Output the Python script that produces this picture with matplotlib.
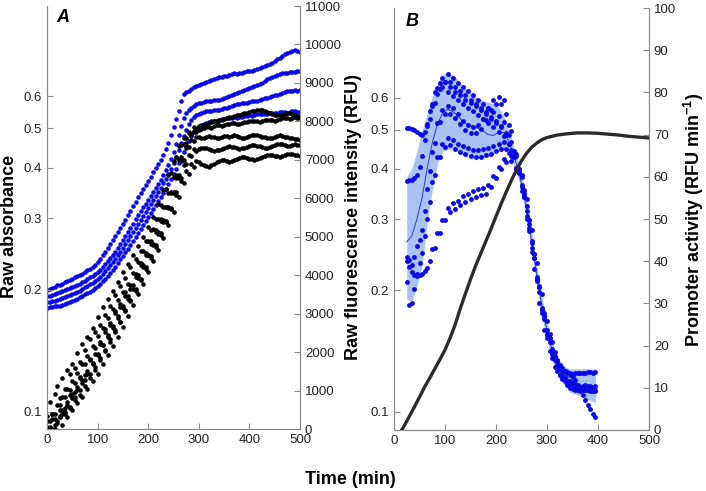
import numpy as np
import matplotlib
matplotlib.use("Agg")
import matplotlib.pyplot as plt
from matplotlib.ticker import NullLocator

plt.rcParams["font.family"] = ["Liberation Sans", "DejaVu Sans"]
plt.rcParams["mathtext.fontset"] = "custom"
plt.rcParams["mathtext.rm"] = "Liberation Sans:bold"
plt.rcParams["mathtext.bf"] = "Liberation Sans:bold"
plt.rcParams["mathtext.default"] = "bf"

# ---------------- panel A data (every 5 min) ----------------
t_a = np.arange(0, 501, 5)

# raw fluorescence (RFU, right axis), blue
fluo_a1 = [3610, 3640, 3670, 3700, 3740, 3750, 3770, 3810, 3850, 3870,
           3900, 3940, 3980, 4000, 4030, 4080, 4130, 4170, 4210, 4270,
           4340, 4430, 4520, 4610, 4710, 4810, 4910, 5010, 5120, 5220,
           5330, 5440, 5560, 5680, 5800, 5910, 6030, 6130, 6240, 6340,
           6450, 6560, 6680, 6780, 6890, 7000, 7120, 7280, 7450, 7640,
           7850, 8060, 8280, 8520, 8700, 8760, 8800, 8850, 8890, 8910,
           8940, 8970, 9000, 9030, 9050, 9070, 9100, 9130, 9150, 9160,
           9180, 9190, 9200, 9240, 9260, 9240, 9250, 9270, 9280, 9300,
           9310, 9320, 9330, 9360, 9390, 9420, 9440, 9460, 9490, 9530,
           9570, 9610, 9650, 9700, 9750, 9780, 9800, 9840, 9850, 9820,
           9800]
fluo_a2 = [3460, 3470, 3480, 3510, 3540, 3570, 3590, 3610, 3640, 3670,
           3690, 3710, 3740, 3780, 3820, 3860, 3900, 3940, 3980, 4030,
           4080, 4140, 4210, 4290, 4370, 4440, 4520, 4610, 4710, 4810,
           4910, 5010, 5120, 5220, 5330, 5450, 5560, 5660, 5770, 5860,
           5950, 6050, 6160, 6260, 6370, 6480, 6600, 6730, 6860, 7020,
           7200, 7410, 7640, 7870, 8090, 8210, 8290, 8350, 8400, 8440,
           8480, 8490, 8500, 8520, 8530, 8540, 8550, 8550, 8560, 8590,
           8610, 8630, 8660, 8690, 8710, 8730, 8760, 8790, 8810, 8840,
           8870, 8900, 8920, 8940, 8970, 9010, 9050, 9090, 9130, 9160,
           9180, 9200, 9230, 9250, 9260, 9270, 9280, 9290, 9280, 9300,
           9310]
fluo_a3 = [3300, 3310, 3330, 3340, 3350, 3380, 3410, 3430, 3460, 3480,
           3510, 3530, 3560, 3600, 3640, 3680, 3720, 3760, 3800, 3850,
           3900, 3960, 4030, 4110, 4190, 4260, 4340, 4430, 4520, 4610,
           4710, 4810, 4910, 5010, 5120, 5220, 5330, 5440, 5540, 5640,
           5750, 5850, 5950, 6050, 6160, 6280, 6400, 6510, 6630, 6770,
           6920, 7080, 7250, 7430, 7620, 7780, 7930, 8030, 8110, 8160,
           8190, 8220, 8240, 8260, 8270, 8280, 8290, 8300, 8300, 8330,
           8350, 8360, 8370, 8400, 8420, 8440, 8450, 8470, 8480, 8490,
           8500, 8520, 8530, 8540, 8550, 8580, 8610, 8620, 8630, 8660,
           8680, 8690, 8710, 8740, 8760, 8780, 8790, 8800, 8810, 8800,
           8810]
fluo_a4 = [3150, 3160, 3170, 3190, 3200, 3210, 3220, 3250, 3280, 3300,
           3330, 3350, 3380, 3420, 3460, 3500, 3540, 3570, 3610, 3660,
           3720, 3780, 3850, 3910, 3980, 4050, 4130, 4220, 4320, 4410,
           4500, 4590, 4680, 4780, 4890, 4990, 5100, 5200, 5300, 5400,
           5510, 5610, 5720, 5820, 5930, 6030, 6140, 6250, 6370, 6500,
           6630, 6770, 6920, 7060, 7200, 7350, 7490, 7610, 7720, 7800,
           7850, 7890, 7930, 7960, 7980, 8000, 8010, 8020, 8030, 8050,
           8060, 8080, 8090, 8100, 8110, 8100, 8110, 8120, 8140, 8150,
           8160, 8150, 8160, 8180, 8190, 8180, 8190, 8200, 8220, 8210,
           8220, 8230, 8240, 8250, 8240, 8230, 8240, 8260, 8270, 8250,
           8240]

# raw absorbance (left log axis), black
abs_a1 = [0.098, 0.106, 0.099, 0.111, 0.116, 0.108, 0.121, 0.114, 0.127, 0.124,
          0.131, 0.128, 0.140, 0.133, 0.147, 0.142, 0.153, 0.151, 0.161, 0.157,
          0.171, 0.164, 0.181, 0.173, 0.190, 0.182, 0.199, 0.194, 0.209, 0.204,
          0.221, 0.214, 0.232, 0.228, 0.244, 0.238, 0.257, 0.249, 0.270, 0.264,
          0.286, 0.280, 0.303, 0.299, 0.325, 0.323, 0.352, 0.354, 0.384, 0.388,
          0.416, 0.425, 0.451, 0.455, 0.474, 0.472, 0.489, 0.480, 0.493, 0.490,
          0.495, 0.497, 0.500, 0.503, 0.503, 0.501, 0.505, 0.508, 0.508, 0.506,
          0.510, 0.512, 0.512, 0.515, 0.515, 0.511, 0.513, 0.516, 0.518, 0.519,
          0.520, 0.521, 0.522, 0.520, 0.518, 0.521, 0.523, 0.525, 0.525, 0.523,
          0.522, 0.525, 0.527, 0.529, 0.530, 0.529, 0.528, 0.531, 0.532, 0.531,
          0.530]
abs_a2 = [0.095, 0.089, 0.099, 0.093, 0.104, 0.101, 0.109, 0.102, 0.114, 0.110,
          0.119, 0.112, 0.125, 0.121, 0.131, 0.123, 0.137, 0.134, 0.145, 0.139,
          0.154, 0.147, 0.161, 0.157, 0.170, 0.164, 0.179, 0.175, 0.189, 0.181,
          0.197, 0.193, 0.207, 0.201, 0.220, 0.215, 0.234, 0.230, 0.249, 0.243,
          0.264, 0.260, 0.282, 0.277, 0.299, 0.295, 0.319, 0.319, 0.347, 0.349,
          0.379, 0.384, 0.417, 0.424, 0.457, 0.460, 0.486, 0.485, 0.504, 0.499,
          0.505, 0.508, 0.510, 0.513, 0.515, 0.518, 0.520, 0.521, 0.523, 0.525,
          0.527, 0.530, 0.532, 0.534, 0.536, 0.538, 0.540, 0.542, 0.545, 0.546,
          0.548, 0.550, 0.552, 0.554, 0.555, 0.553, 0.550, 0.548, 0.545, 0.542,
          0.540, 0.539, 0.538, 0.540, 0.542, 0.544, 0.545, 0.541, 0.538, 0.536,
          0.535]
abs_a3 = [0.088, 0.095, 0.091, 0.096, 0.095, 0.104, 0.099, 0.109, 0.104, 0.113,
          0.108, 0.118, 0.113, 0.122, 0.118, 0.131, 0.124, 0.135, 0.131, 0.144,
          0.138, 0.149, 0.146, 0.160, 0.153, 0.166, 0.161, 0.177, 0.170, 0.184,
          0.180, 0.197, 0.190, 0.205, 0.201, 0.219, 0.214, 0.233, 0.228, 0.247,
          0.243, 0.263, 0.258, 0.280, 0.275, 0.298, 0.294, 0.320, 0.318, 0.347,
          0.348, 0.378, 0.383, 0.414, 0.418, 0.448, 0.450, 0.468, 0.466, 0.476,
          0.475, 0.474, 0.472, 0.476, 0.478, 0.477, 0.476, 0.474, 0.474, 0.477,
          0.479, 0.478, 0.476, 0.478, 0.480, 0.478, 0.476, 0.474, 0.473, 0.475,
          0.478, 0.481, 0.482, 0.480, 0.479, 0.477, 0.476, 0.474, 0.472, 0.474,
          0.476, 0.478, 0.480, 0.479, 0.477, 0.475, 0.474, 0.472, 0.471, 0.470,
          0.468]
abs_a4 = [0.092, 0.087, 0.096, 0.099, 0.094, 0.098, 0.101, 0.099, 0.106, 0.103,
          0.111, 0.107, 0.115, 0.110, 0.120, 0.116, 0.126, 0.121, 0.132, 0.127,
          0.139, 0.134, 0.146, 0.141, 0.155, 0.149, 0.163, 0.157, 0.172, 0.167,
          0.182, 0.178, 0.193, 0.188, 0.205, 0.199, 0.217, 0.211, 0.230, 0.225,
          0.244, 0.239, 0.259, 0.255, 0.277, 0.273, 0.297, 0.293, 0.319, 0.318,
          0.346, 0.348, 0.377, 0.378, 0.406, 0.407, 0.430, 0.428, 0.444, 0.440,
          0.445, 0.447, 0.448, 0.447, 0.445, 0.442, 0.440, 0.441, 0.442, 0.445,
          0.447, 0.449, 0.451, 0.450, 0.449, 0.447, 0.445, 0.446, 0.448, 0.450,
          0.452, 0.454, 0.455, 0.453, 0.451, 0.449, 0.447, 0.448, 0.450, 0.453,
          0.455, 0.457, 0.458, 0.457, 0.455, 0.453, 0.452, 0.454, 0.456, 0.455,
          0.454]
abs_a5 = [0.086, 0.092, 0.088, 0.091, 0.090, 0.097, 0.093, 0.100, 0.097, 0.102,
          0.101, 0.109, 0.105, 0.113, 0.109, 0.120, 0.114, 0.124, 0.119, 0.129,
          0.124, 0.136, 0.131, 0.142, 0.138, 0.151, 0.145, 0.159, 0.153, 0.167,
          0.162, 0.177, 0.172, 0.189, 0.183, 0.201, 0.195, 0.213, 0.207, 0.228,
          0.221, 0.242, 0.236, 0.258, 0.251, 0.276, 0.268, 0.295, 0.289, 0.316,
          0.311, 0.342, 0.338, 0.370, 0.366, 0.393, 0.386, 0.409, 0.402, 0.416,
          0.412, 0.408, 0.405, 0.403, 0.402, 0.405, 0.408, 0.412, 0.415, 0.417,
          0.418, 0.415, 0.413, 0.416, 0.418, 0.420, 0.422, 0.424, 0.425, 0.422,
          0.420, 0.419, 0.418, 0.420, 0.423, 0.425, 0.427, 0.429, 0.430, 0.429,
          0.428, 0.426, 0.425, 0.427, 0.430, 0.432, 0.433, 0.431, 0.430, 0.429,
          0.428]

# ---------------- panel B data ----------------
t_b = np.arange(25, 400, 5)

act_b1 = [71.5, 71.6, 71.3, 71, 70.5, 70.2, 69.8, 70.5, 72, 73.8,
          76.8, 77.5, 81, 80.7, 83.4, 82.5, 84.3, 82.4, 83.3, 81.2,
          82.2, 80.3, 81.3, 79.4, 80.3, 78.2, 79.4, 77.3, 78.3, 76.3,
          77.3, 75.4, 76.3, 74.2, 75.4, 73.2, 74.4, 72.1, 72.9, 70,
          69.8, 66.4, 65.9, 62.1, 61.9, 58, 56.9, 52, 49.8, 44.3,
          41.8, 36.2, 33.8, 28.5, 26.8, 22.5, 21.8, 18, 17.6, 15.3,
          15, 14.4, 14, 13.7, 13.5, 13.3, 13.4, 13.5, 13.6, 13.4,
          13.5, 13.7, 13.8, 13.6, 13.7]
act_b2 = [59, 59.3, 59.2, 59.6, 60.5, 62.3, 65, 68.8, 72.5, 75.5,
          77.2, 80.2, 79.7, 82.2, 81.2, 82.4, 80.2, 81.3, 79.2, 80.2,
          78.2, 79.3, 77.2, 78.3, 76.2, 77.4, 75.5, 76.7, 74.7, 75.8,
          73.7, 74.8, 72.7, 73.8, 71.7, 72.8, 70.7, 71.8, 69.7, 70.4,
          67.7, 68.2, 65.2, 65, 61.2, 60.4, 56.2, 54.8, 49.7, 47.3,
          41.7, 39.5, 34.2, 32.2, 27.2, 25.8, 21.7, 20.9, 17.4, 16.7,
          14.5, 13.4, 12.5, 11.6, 11, 10.7, 10.5, 10.4, 10.3, 10.5,
          10.6, 10.5, 10.5, 10.3, 10.4]
act_b3 = [41, 40.2, 39, 41, 43.5, 45, 47.5, 52, 57, 61.3,
          65.8, 68, 72.8, 73, 75.8, 74.8, 76.8, 75, 76.3, 74,
          74.8, 72.4, 73.3, 71.2, 72.3, 70.4, 71.8, 70.3, 72.3, 71.4,
          73.8, 73.5, 76.3, 75.8, 78.3, 77.2, 79, 77.2, 78.3, 75,
          72.2, 70.9, 66.2, 65.3, 61.2, 60, 55.2, 53, 47.2, 44.8,
          40.8, 35.2, 32.8, 27.8, 26.3, 21.8, 20.8, 17.1, 16.6, 13.9,
          13, 12.2, 11.5, 10.7, 10, 9.7, 9.5, 9.4, 9.3, 9.4,
          9.6, 9.5, 9.4, 9.5, 9.5]
act_b4 = [35, 29.7, 30, 33.5, 37, 39.5, 42, 46, 50, 54,
          58.8, 60.4, 64.8, 64.8, 67.8, 67, 69.3, 67.5, 68.8, 66.7,
          67.8, 65.9, 67.3, 65.4, 66.8, 64.9, 66.3, 64.6, 66.3, 64.8,
          66.6, 65.1, 66.8, 65.5, 67.3, 66, 67.8, 66.5, 68.3, 66.6,
          67.8, 64.9, 64.8, 61.4, 60.8, 56.6, 55.3, 50, 47.8, 42.2,
          38.2, 35.8, 30.2, 28.5, 23.7, 22.7, 18.8, 18.1, 14.9, 14.6,
          13, 12.5, 12, 11.7, 11.5, 11.2, 11, 10.5, 10, 9.7,
          9.5, 9.4, 9.3, 9.2, 9.2]
act_b5 = [40, 38.7, 37.5, 36.8, 36.5, 36.7, 37, 37.6, 38.5, 40,
          42.8, 43.2, 46.8, 46.8, 49.8, 49.7, 52.6, 51.6, 53.8, 52.4,
          54.3, 53.3, 55.4, 54.1, 56, 54.7, 56.6, 55.3, 57.1, 55.6,
          57.3, 56, 58.1, 57.5, 60.3, 59.7, 62.3, 61.8, 64.3, 63.4,
          65.6, 63.8, 64.8, 62, 61.8, 57.5, 55.8, 50.8, 48.8, 43.2,
          40.8, 35.6, 33.8, 29, 27.8, 23.6, 22.8, 19.2, 18.6, 16.1,
          15.5, 14.7, 14, 13.5, 13, 12.5, 11.8, 10.7, 9.5, 8.2,
          7, 6, 5, 3.8, 3]

# mean and spread of the replicates (every 10 min)
t_band = np.arange(25, 400, 10)
act_mean = [44.6, 46, 50, 55, 62, 68, 72.5, 75, 76, 75.5,
            74.5, 73, 72.3, 72, 71.5, 70.8, 70, 69.8, 70.6, 70.5,
            68.5, 65, 61, 55.5, 48.5, 40.5, 32.8, 26.2, 21, 17,
            14.3, 12.7, 11.8, 11.2, 10.6, 10.3, 10.2, 10.3]
act_hi = [60, 62, 66, 71, 75, 79, 82, 84, 85, 84,
          83, 81.5, 80.5, 79.5, 78.7, 78, 77.7, 77.3, 76.5, 74.5,
          71, 67, 63, 57.5, 51, 43, 35, 28.5, 23, 19,
          16.5, 15, 14.5, 14.5, 14.5, 14.5, 14.5, 14.5]
act_lo = [31, 30.5, 34, 39, 49, 57, 63, 66, 66.5, 66.5,
          66, 65, 64.5, 64.5, 64.5, 64.5, 64.7, 65.5, 66, 66.5,
          66, 63, 59, 53.5, 46, 38, 30.5, 24, 19, 15,
          12, 10.5, 9, 8.5, 8, 7.5, 7, 6.5]

t_line = [15, 20, 30, 40, 50, 60, 70, 80, 90, 100, 110, 120, 130, 140, 150,
          160, 170, 180, 190, 200, 210, 220, 230, 240, 250, 260, 270, 280,
          290, 300, 320, 340, 360, 380, 400, 420, 440, 460, 480, 500]
line_b = [0, 1.0, 3.2, 5.5, 7.8, 10.2, 12.3, 14.5, 16.7, 19, 21.8, 25, 28.8, 32.3,
          35.7, 38.9, 41.8, 44.7, 47.6, 50.6, 53.6, 56.4, 59.1, 61.6, 63.8, 65.6,
          67, 68, 68.8, 69.3, 69.9, 70.2, 70.4, 70.4, 70.3, 70.1, 69.9, 69.6, 69.4, 69.2]

log_ticks = [0.1, 0.2, 0.3, 0.4, 0.5, 0.6]
x_ticks = [0, 100, 200, 300, 400, 500]

SPINE = "#8a8a8a"
LABEL = "#222222"
BLUE = "#0a0ae6"


def style(ax):
    ax.spines["top"].set_visible(False)
    for s in ["left", "right", "bottom"]:
        ax.spines[s].set_color(SPINE)
    ax.tick_params(direction="in", length=4, color=SPINE, labelcolor=LABEL,
                   labelsize=9.5)


fig = plt.figure(figsize=(7.06, 4.91), dpi=100)

# ---------- A ----------
axA = fig.add_axes([47 / 706, 62 / 491, 253 / 706, 423 / 491])
axA2 = axA.twinx()
axA.set_zorder(axA2.get_zorder() + 1)
axA.patch.set_visible(False)

for f in [fluo_a1, fluo_a2, fluo_a3, fluo_a4]:
    axA2.plot(t_a, f, "o", color=BLUE, ms=3.3, mec="none")
for a in [abs_a1, abs_a2, abs_a3, abs_a4, abs_a5]:
    axA.plot(t_a, a, "o", color="black", ms=3.3, mec="none")

axA.set_yscale("log")
axA.set_ylim(0.0908, 1.0)
axA.set_yticks(log_ticks)
axA.set_yticklabels([str(v) for v in log_ticks])
axA.yaxis.set_minor_locator(NullLocator())
axA.set_xlim(0, 500)
axA.set_xticks(x_ticks)
axA2.set_ylim(0, 11000)
axA2.set_yticks(range(0, 11001, 1000))
style(axA)
style(axA2)

# ---------- B ----------
axB = fig.add_axes([394 / 706, 61 / 491, 255 / 706, 422 / 491])
axB2 = axB.twinx()

axB2.fill_between(t_band, act_lo, act_hi, color="#a9c3f2", lw=0)
axB2.plot(t_band, act_mean, color="#2a3cc8", lw=0.7)
for s in [act_b1, act_b2, act_b3, act_b4, act_b5]:
    axB2.plot(t_b, s, "o", color=BLUE, ms=3.5, mec="none")
axB2.plot(t_line, line_b, color="#2b2b2b", lw=2.4, zorder=5)

axB.set_yscale("log")
axB.set_ylim(0.0902, 1.0)
axB.set_yticks(log_ticks)
axB.set_yticklabels([str(v) for v in log_ticks])
axB.yaxis.set_minor_locator(NullLocator())
axB.set_xlim(0, 500)
axB.set_xticks(x_ticks)
axB2.set_ylim(0, 100)
axB2.set_yticks(range(0, 101, 10))
style(axB)
style(axB2)

# ---------- labels ----------
bold = dict(fontsize=13, fontweight="bold", color="black", ha="center", va="center")
fig.text(10 / 706, 1 - 226 / 491, "Raw absorbance", rotation=90, **bold)
fig.text(354 / 706, 1 - 217 / 491, "Raw fluorescence intensity (RFU)", rotation=90, **bold)
fig.text(694 / 706, 1 - 220 / 491, "Promoter activity (RFU min$^{-1}$)", rotation=90, **bold)
fig.text(350 / 706, 1 - 480 / 491, "Time (min)", **bold)
fig.text(63 / 706, 1 - 17 / 491, "A", fontsize=13, fontweight="bold", style="italic",
         ha="center", va="center")
fig.text(412 / 706, 1 - 21 / 491, "B", fontsize=13, fontweight="bold", style="italic",
         ha="center", va="center")

fig.savefig("out.png", dpi=100)
